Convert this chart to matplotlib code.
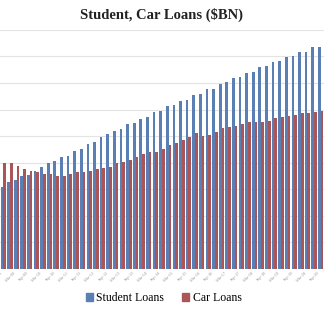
import numpy as np
import matplotlib
matplotlib.use("Agg")
import matplotlib.pyplot as plt
from matplotlib.patches import Patch

# quarterly, $BN
quarters = []
for yr in range(8, 21):
    for mon in ["Mar", "Jun", "Sep", "Dec"]:
        quarters.append("%s-%02d" % (mon, yr))
quarters = quarters[2:2 + 49]   # Sep-08 .. Sep-20

student = [620, 653, 670, 703, 708, 741, 770, 796, 810, 846,
           851, 890, 904, 939, 954, 997, 1015, 1042, 1057, 1090,
           1098, 1130, 1147, 1179, 1188, 1226, 1231, 1267, 1273, 1311,
           1316, 1352, 1358, 1394, 1406, 1441, 1446, 1479, 1486, 1524,
           1529, 1559, 1565, 1597, 1602, 1635, 1635, 1670, 1670]
car = [796, 801, 776, 753, 738, 731, 716, 713, 703, 697,
       713, 728, 733, 741, 751, 757, 771, 798, 808, 821,
       840, 863, 880, 881, 904, 934, 951, 969, 993, 1022,
       1003, 1009, 1034, 1060, 1072, 1077, 1090, 1110, 1110, 1110,
       1117, 1135, 1143, 1155, 1160, 1173, 1177, 1180, 1192]

blue = "#5a7fb4"
red = "#aa5659"
serif = ["Liberation Serif", "DejaVu Serif"]

fig = plt.figure(figsize=(3.24, 3.13), dpi=100)
ax = fig.add_axes([0.0, 0.1406, 1.0, 0.764])

x = np.arange(len(quarters))
w = 0.41
ax.bar(x - w / 2, student, width=w, color=blue, zorder=3)
ax.bar(x + w / 2, car, width=w, color=red, zorder=3)

ax.set_xlim(-0.5, len(quarters) - 0.5)
ax.set_ylim(0, 1800)
ax.set_yticks(np.arange(200, 1801, 200))
ax.yaxis.grid(True, color="#e3e3e3", linewidth=0.8, zorder=0)
ax.tick_params(axis="y", length=0, labelleft=False)
for s in ax.spines.values():
    s.set_visible(False)

ax.set_xticks(x[::2])
ax.set_xticklabels(quarters[::2], rotation=45, ha="right",
                   fontsize=3.2, color="#999999", family=serif)
ax.tick_params(axis="x", length=0, pad=1)

fig.text(0.5, 0.952, "Student, Car Loans ($BN)", ha="center", va="center",
         fontsize=10.5, fontweight="bold", family=serif, color="#222222")

handles = [Patch(color=blue, label="Student Loans"),
           Patch(color=red, label="Car Loans")]
fig.legend(handles=handles, loc="center", bbox_to_anchor=(0.505, 0.048), ncol=2,
           frameon=False, prop={"family": serif, "size": 8.5},
           handlelength=0.6, handleheight=0.6, handletextpad=0.3,
           columnspacing=1.5)

fig.savefig("out.png", dpi=100)
